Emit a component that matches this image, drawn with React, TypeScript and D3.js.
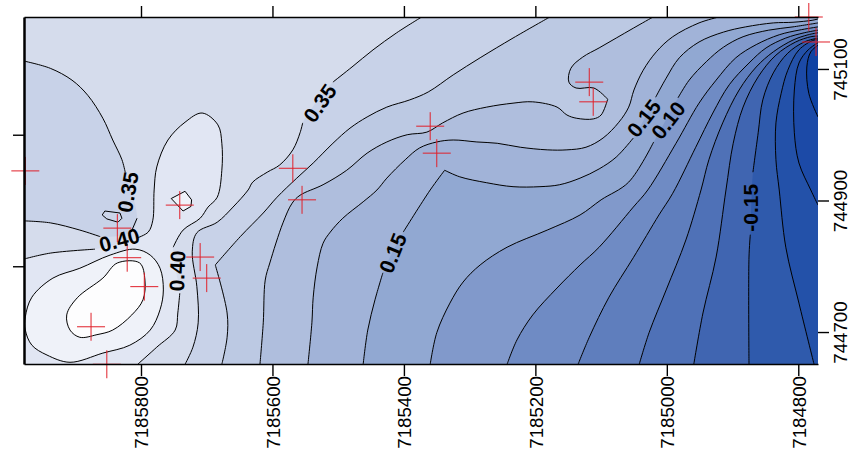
import { useEffect, useRef } from "react";
import * as d3 from "d3";

type Pt = [number, number] | null;

// map coordinates are stored as metres past these origins
const EAST0 = 7184000;
const NORTH0 = 744000;

const eastTicks = [7185800, 7185600, 7185400, 7185200, 7185000, 7184800];
const northTicksRight = [744700, 744900, 745100];
const northTicksLeft = [744800, 745000];

// null marks a gap in the line where a label sits, a repeated point is a sharp corner
const line035: Pt[] = [[1733,651],[1721,677],[1713,714],[1715,769],[1722,822],[1715,851],[1684,867],[1660,890],[1637,916],[1630,928],[1608,943],[1589,954],[1569,977],[1558,1003],[1554,1018],null,[1508,1080],[1479,1103],[1447,1129],[1411,1155],[1373,1179]];
const line030: Pt[] = [[1677,651],[1669,692],[1669,729],[1687,802],[1687,802],[1649,845],[1614,881],[1593,905],[1563,934],[1538,957],[1508,987],[1482,1010],[1456,1027],[1426,1042],[1391,1053],[1363,1065],[1325,1091],[1284,1117],[1234,1147],[1178,1179]];
const line025: Pt[] = [[1619,651],[1614,714],[1611,779],[1604,805],[1584,866],[1570,896],[1558,908],[1523,924],[1487,946],[1456,972],[1426,989],[1395,1000],[1365,1004],[1341,1018],[1310,1033],[1274,1042],[1234,1048],[1204,1050],[1167,1042],[1152,1030],[1137,1025],[1112,1024],[1100,1030],[1090,1054],[1090,1054],[1111,1071],[1138,1071],[1149,1080],[1146,1101],[1128,1118],[1103,1132],[1077,1147],[1051,1162],[1021,1179]];
const line020: Pt[] = [[1546,651],[1540,714],[1538,753],[1532,799],[1523,835],[1512,852],[1493,873],[1462,898],[1441,916],[1426,934],[1398,962],[1376,980],[1350,989],[1325,992],[1289,989],[1258,987],[1223,981],[1182,977],[1152,977],[1123,981],[1097,995],[1073,1019],[1058,1042],[1050,1068],[1036,1098],[1016,1126],[991,1149],[951,1170],[921,1179]];
const line015: Pt[] = [[1462,651],[1455,703],[1444,749],[1432,790],null,[1401,852],[1360,916],[1338,946],[1338,946],[1315,936],[1274,927],[1234,921],[1193,921],[1163,924],[1132,934],[1103,948],[1077,966],[1051,995],null,[1017,1057],[1001,1086],[981,1117],[951,1141],[914,1156],[880,1164],[838,1170],[808,1171],[779,1174],[770,1176]];
const line010: Pt[] = [[1360,651],[1350,699],[1330,744],[1310,776],[1284,802],[1243,829],[1182,855],[1132,878],[1100,901],[1058,928],[1020,989],null,[983,1056],[966,1083],[940,1111],[914,1133],[884,1149],[845,1159],[808,1164],[770,1170]];
const line005: Pt[] = [[1243,651],[1228,688],[1204,726],[1167,767],[1132,802],[1103,829],[1051,890],[1029,916],[986,987],[951,1048],[925,1083],[895,1117],[864,1137],[829,1152],[799,1159],[770,1164]];
const line000: Pt[] = [[1135,651],[1118,692],[1088,753],[1051,813],[1012,878],[991,911],[956,981],[930,1033],[905,1076],[875,1109],[849,1132],[819,1147],[791,1155],[770,1159]];
const lineM05: Pt[] = [[1042,651],[1027,699],[1001,764],[971,840],[948,916],[936,962],[915,1018],[890,1068],[864,1103],[838,1126],[808,1144],[785,1152],[770,1155]];
const lineM10: Pt[] = [[959,651],[945,729],[925,814],[910,916],[899,987],[884,1042],[861,1088],[834,1121],[804,1141],[781,1149],[770,1150]];
const lineM15: Pt[] = [[875,651],[875,814],[873,848],null,[869,943],[861,1003],[854,1053],[838,1094],[816,1124],[791,1141],[770,1147]];
const lineM20: Pt[] = [[776,651],[799,744],[819,829],[829,916],[834,962],[834,1018],[826,1063],[816,1098],[799,1129],[776,1144],[770,1144]];
const lineM25: Pt[] = [[770,893],[781,916],[799,957],[806,1003],[806,1068],[799,1109],[785,1129],[770,1140]];
const lineM30: Pt[] = [[770,1027],[784,1063],[787,1103],[781,1126],[770,1136]];

const blob035: Pt[] = [[1978,1112],[1938,1101],[1905,1083],[1881,1060],[1858,1025],[1843,992],[1829,962],[1824,943],null,[1806,873],[1815,852],null,[1862,845],[1893,855],[1938,866],[1978,869]];
const lobe040: Pt[] = [[1978,811],[1938,820],[1870,826],null,[1806,843],[1789,852],[1782,870],[1780,916],[1776,951],[1759,992],[1733,1019],[1707,1033],[1683,1015],[1677,987],[1677,946],[1684,905],[1698,890],[1710,873],[1736,855],[1751,829],null,[1741,759],[1744,729],[1748,703],[1776,677],[1805,651]];
const loop045: Pt[] = [[1976,723],[1966,753],[1934,782],[1893,797],[1847,817],[1809,826],[1786,817],[1771,797],[1766,764],[1771,734],[1786,703],[1817,680],[1858,668],[1908,654],[1943,665],[1966,680],[1976,703]];
const loop050: Pt[] = [[1913,726],[1897,752],[1858,782],[1836,805],[1802,805],[1794,779],[1797,749],[1814,726],[1843,703],[1867,696],[1893,692],[1908,703]];
const loopLobeTop: Pt[] = [[1754,903],[1733,914],[1723,901],[1724,891],[1736,884]];
const loopLeft: Pt[] = [[1859,878],[1855,884],[1832,881],[1829,873],[1835,867],[1852,872]];

const samplePoints: [number, number][] = [[1976,945],[1836,858],[1821,813],[1795,769],[1876,708],[1852,651],[1741,893],[1710,814],[1700,782],[1569,949],[1555,901],[1360,1013],[1350,972],[1118,1080],[1112,1050],[784,1179],[773,1141]];

const contourLabels: { text: string; at: [number, number]; angle: number }[] = [
  { text: "0.35", at: [1820, 913], angle: -80 },
  { text: "0.40", at: [1833, 840], angle: -15 },
  { text: "0.40", at: [1745, 793], angle: -88 },
  { text: "0.35", at: [1528, 1048], angle: -55 },
  { text: "0.15", at: [1417, 820], angle: -68 },
  { text: "0.15", at: [1035, 1025], angle: -52 },
  { text: "0.10", at: [998, 1022], angle: -52 },
  { text: "-0.15", at: [872, 889], angle: -90 },
];

const SE: [number, number] = [770, 651];
const NE: [number, number] = [770, 1179];
const SW: [number, number] = [1978, 651];

const baseColor = "#d5dcec";

// painted in this order, each one over the last
const openBands: { pts: Pt[]; fill: string; close: [number, number][] }[] = [
  { pts: line035, fill: "#c8d2e8", close: [NE, SE] },
  { pts: line030, fill: "#bcc9e3", close: [NE, SE] },
  { pts: line025, fill: "#afbedd", close: [NE, SE] },
  { pts: line020, fill: "#a1b3d8", close: [NE, SE] },
  { pts: line015, fill: "#91a8d2", close: [SE] },
  { pts: line010, fill: "#8199cb", close: [SE] },
  { pts: line005, fill: "#6f8bc4", close: [SE] },
  { pts: line000, fill: "#5f7ebd", close: [SE] },
  { pts: lineM05, fill: "#4f71b7", close: [SE] },
  { pts: lineM10, fill: "#4065b1", close: [SE] },
  { pts: lineM15, fill: "#2f5aac", close: [SE] },
  { pts: lineM20, fill: "#2351a9", close: [SE] },
  { pts: lineM25, fill: "#1c4aa7", close: [] },
  { pts: lineM30, fill: "#0f42a3", close: [] },
  { pts: blob035, fill: "#c8d2e8", close: [] },
  { pts: lobe040, fill: "#e1e6f3", close: [SW] },
];

const closedBands: { pts: Pt[]; fill: string }[] = [
  { pts: loop045, fill: "#eff2f9" },
  { pts: loop050, fill: "#fdfdfe" },
  { pts: loopLobeTop, fill: "#eff2f9" },
  { pts: loopLeft, fill: "#ccd5e9" },
];

const x = d3.scaleLinear().domain([EAST0 + 1978, EAST0 + 770]).range([24, 818]);
const y = d3.scaleLinear().domain([NORTH0 + 651.4, NORTH0 + 1179]).range([364, 17]);
const px = (p: [number, number]) => x(EAST0 + p[0]);
const py = (p: [number, number]) => y(NORTH0 + p[1]);

const openLine = d3
  .line<Pt>()
  .defined((d) => d !== null)
  .x((d) => px(d as [number, number]))
  .y((d) => py(d as [number, number]))
  .curve(d3.curveCatmullRom.alpha(0.5));

const closedLine = d3
  .line<Pt>()
  .x((d) => px(d as [number, number]))
  .y((d) => py(d as [number, number]))
  .curve(d3.curveLinearClosed);

const smoothClosedLine = d3
  .line<Pt>()
  .x((d) => px(d as [number, number]))
  .y((d) => py(d as [number, number]))
  .curve(d3.curveCatmullRomClosed.alpha(0.5));

function fillPath(pts: Pt[], close: [number, number][]): string {
  const solid = pts.filter((d) => d !== null);
  const tail = close.map((c) => `L${px(c)},${py(c)}`).join("");
  return `${openLine(solid)}${tail}Z`;
}

const fontFamily = "'Liberation Sans', Arial, sans-serif";

export default function App() {
  const axesRef = useRef<SVGGElement>(null);

  useEffect(() => {
    if (!axesRef.current) return;
    const g = d3.select(axesRef.current);
    g.selectAll("*").remove();

    const bottom = g
      .append("g")
      .attr("transform", "translate(0,364)")
      .call(
        d3.axisBottom(x).tickValues(eastTicks).tickSizeInner(12).tickSizeOuter(0).tickFormat(d3.format("d")),
      );
    bottom
      .selectAll("text")
      .attr("transform", "rotate(-90)")
      .attr("x", -12)
      .attr("y", 0)
      .attr("dy", "0.36em")
      .attr("text-anchor", "end");

    g.append("g")
      .attr("transform", "translate(0,17)")
      .call(d3.axisTop(x).tickValues(eastTicks).tickSizeInner(11).tickSizeOuter(0).tickFormat(() => ""));

    const left = g
      .append("g")
      .attr("transform", "translate(24,0)")
      .call(d3.axisLeft(y).tickValues(northTicksLeft).tickSizeInner(11).tickSizeOuter(0).tickFormat(() => ""));

    const right = g
      .append("g")
      .attr("transform", "translate(818,0)")
      .call(
        d3.axisRight(y).tickValues(northTicksRight).tickSizeInner(11).tickSizeOuter(0).tickFormat(d3.format("d")),
      );
    right.select(".domain").remove();
    right
      .selectAll("text")
      .attr("x", 0)
      .attr("y", 0)
      .attr("dy", 0)
      .attr("transform", "translate(28.5,0) rotate(-90)")
      .attr("text-anchor", "middle");

    g.selectAll(".tick line").attr("stroke", "#000").attr("stroke-width", 1.4);
    g.selectAll(".domain").attr("stroke", "#000").attr("stroke-width", 1.5);
    g.selectAll("text").attr("font-family", fontFamily).attr("font-size", 18.7).attr("fill", "#000");
    left.select(".domain").attr("stroke-width", 2.5);
  }, []);

  return (
    <svg width={866} height={466} style={{ position: "absolute", left: 0, top: 0, background: "#fff" }}>
      <defs>
        <clipPath id="plot">
          <rect x={24} y={17} width={794} height={347} />
        </clipPath>
      </defs>
      <g clipPath="url(#plot)">
        <rect x={24} y={17} width={794} height={347} fill={baseColor} />
        {openBands.map((b, i) => (
          <path key={i} d={fillPath(b.pts, b.close)} fill={b.fill} />
        ))}
        {closedBands.map((b, i) => (
          <path
            key={i}
            d={(b.pts.length > 6 ? smoothClosedLine(b.pts) : closedLine(b.pts)) ?? ""}
            fill={b.fill}
            stroke="#000"
            strokeWidth={1}
          />
        ))}
        {openBands.map((b, i) => (
          <path key={i} d={openLine(b.pts) ?? ""} fill="none" stroke="#000" strokeWidth={1} />
        ))}
      </g>
      <g stroke="#e0202a" strokeWidth={1} fill="none">
        {samplePoints.map((p, i) => (
          <path
            key={i}
            d={`M${px(p) - 14},${py(p)}H${px(p) + 14}M${px(p)},${py(p) - 14}V${py(p) + 14}`}
          />
        ))}
      </g>
      <g ref={axesRef} />
      <g fontFamily={fontFamily} fontWeight="bold" fontSize={21} fill="#000" textAnchor="middle">
        {contourLabels.map((l, i) => (
          <text
            key={i}
            transform={`translate(${px(l.at)},${py(l.at)}) rotate(${l.angle})`}
            dominantBaseline="central"
          >
            {l.text}
          </text>
        ))}
      </g>
    </svg>
  );
}
